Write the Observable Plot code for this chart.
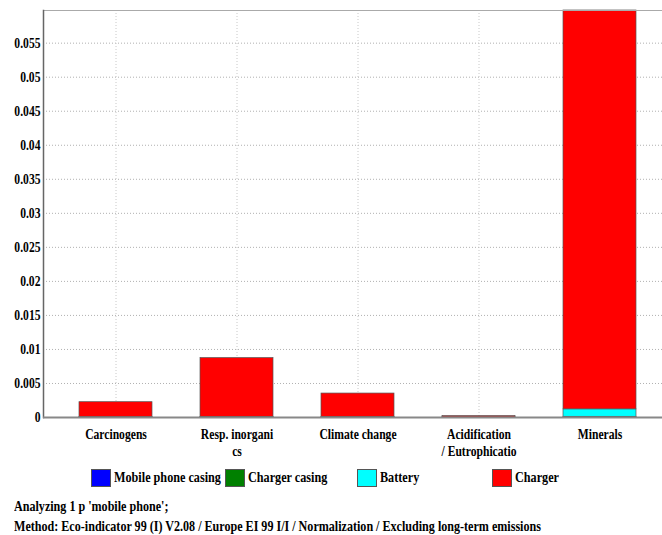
<!DOCTYPE html>
<html>
<head>
<meta charset="utf-8">
<script src="https://cdn.jsdelivr.net/npm/d3@7"></script>
<script src="https://cdn.jsdelivr.net/npm/@observablehq/plot@0.6"></script>
<style>
  body { margin: 0; background: #fff; font-family: "Liberation Serif", "Times New Roman", serif; font-weight: bold; }
  #chart { position: relative; width: 662px; }
  #legend { position: relative; height: 24px; margin-top: 6px; }
  .item { position: absolute; top: 0; display: flex; align-items: center; height: 20px; }
  .sw { width: 20px; height: 18px; border: 1px solid #555; box-sizing: border-box; }
  .lab { font-size: 14px; margin-left: 3px; transform: scaleX(0.87); transform-origin: left center; white-space: nowrap; }
  .cap { font-size: 14px; margin-left: 14px; transform: scaleX(0.863); transform-origin: left center; white-space: nowrap; line-height: 20px; }
</style>
</head>
<body>
<div id="chart"></div>
<script>
const categories = ["Carcinogens", "Resp. inorganics", "Climate change", "Acidification/ Eutrophication", "Minerals"];
const categoryLabels = ["Carcinogens", "Resp. inorgani\ncs", "Climate change", "Acidification\n/ Eutrophicatio", "Minerals"];
const components = ["Mobile phone casing", "Charger casing", "Battery", "Charger"];
const colors = ["#0000ff", "#008000", "#00ffff", "#ff0000"];
const mobileCasing = [0.00001, 0.00002, 0.00002, 0.000005, 0.00005];
const chargerCasing = [0.00002, 0.00003, 0.00003, 0.00001, 0.00005];
const battery = [0.00002, 0.00003, 0.00002, 0.000005, 0.0011];
const charger = [0.0022, 0.00865, 0.00345, 0.00018, 0.0586];
const yTicks = [0, 0.005, 0.01, 0.015, 0.02, 0.025, 0.03, 0.035, 0.04, 0.045, 0.05, 0.055];
const yTickLabels = ["0", "0.005", "0.01", "0.015", "0.02", "0.025", "0.03", "0.035", "0.04", "0.045", "0.05", "0.055"];
const yMax = 0.0598;

const series = [mobileCasing, chargerCasing, battery, charger];
const data = [];
categories.forEach((c, i) => {
  components.forEach((comp, j) => {
    data.push({category: c, component: comp, value: series[j][i]});
  });
});

const plot = Plot.plot({
  width: 662,
  height: 462,
  marginTop: 10,
  marginBottom: 45,
  marginLeft: 43,
  marginRight: 0,
  style: {fontFamily: "'Liberation Serif', 'Times New Roman', serif", fontWeight: "bold", color: "#000", background: "#fff"},
  x: {domain: categories, range: [54.8, 659.8], paddingInner: 0.4, paddingOuter: 0.2, label: null},
  y: {domain: [0, yMax], label: null},
  color: {domain: components, range: colors},
  marks: [
    Plot.gridY(yTicks, {stroke: "#b0b0b0", strokeOpacity: 1, strokeDasharray: "1,2"}),
    Plot.gridX(categories, {stroke: "#c8c8c8", strokeOpacity: 1, strokeDasharray: "1,2"}),
    Plot.barY(data, {x: "category", y: "value", fill: "component", stroke: "#555", strokeWidth: 0.7}),
    Plot.frame({stroke: "#aaa"}),
    Plot.frame({anchor: "left", stroke: "#666", strokeWidth: 1.5}),
    Plot.ruleY([0], {stroke: "#888", strokeWidth: 2}),
    Plot.axisY(yTicks, {tickSize: 0, tickPadding: 3, fontSize: 14, tickFormat: (d) => yTickLabels[yTicks.indexOf(d)], label: null}),
    Plot.axisX(categories, {tickSize: 0, tickPadding: 10, fontSize: 14, tickFormat: (d) => categoryLabels[categories.indexOf(d)], label: null, lineHeight: 1.2})
  ]
});

document.getElementById("chart").appendChild(plot);
plot.querySelectorAll("text").forEach(t => {
  const tr = t.getAttribute("transform") || "";
  t.setAttribute("transform", tr + " scale(0.83,1)");
});

const legend = document.createElement("div");
legend.id = "legend";
const lefts = [91, 225, 357, 492];
components.forEach((comp, j) => {
  const it = document.createElement("div");
  it.className = "item";
  it.style.left = lefts[j] + "px";
  const sw = document.createElement("div");
  sw.className = "sw";
  sw.style.background = colors[j];
  const lab = document.createElement("span");
  lab.className = "lab";
  lab.textContent = comp;
  it.appendChild(sw);
  it.appendChild(lab);
  legend.appendChild(it);
});
document.getElementById("chart").appendChild(legend);

const captions = ["Analyzing 1 p 'mobile phone';", "Method: Eco-indicator 99 (I) V2.08 / Europe EI 99 I/I / Normalization / Excluding long-term emissions"];
const capWrap = document.createElement("div");
capWrap.style.marginTop = "5px";
captions.forEach(c => {
  const d = document.createElement("div");
  d.className = "cap";
  d.textContent = c;
  capWrap.appendChild(d);
});
document.getElementById("chart").appendChild(capWrap);
</script>
</body>
</html>
